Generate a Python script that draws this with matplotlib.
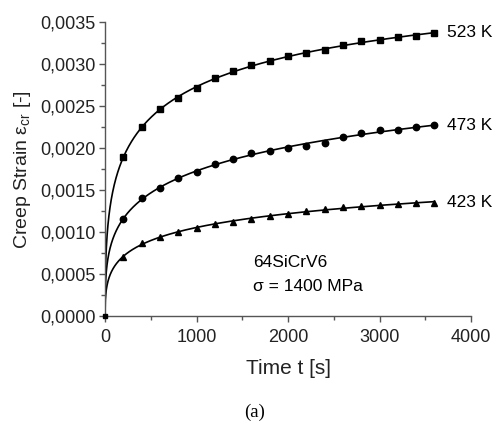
import numpy as np
import matplotlib
matplotlib.use("Agg")
import matplotlib.pyplot as plt
from matplotlib.ticker import MultipleLocator, FuncFormatter

plt.rcParams['font.family'] = ['Liberation Sans', 'DejaVu Sans']

time_s = [200, 400, 600, 800, 1000, 1200, 1400, 1600, 1800, 2000,
          2200, 2400, 2600, 2800, 3000, 3200, 3400, 3600]
strain_523 = [0.00189, 0.00225, 0.00246, 0.00260, 0.00271, 0.00283, 0.00292, 0.00299, 0.00304,
              0.00309, 0.00313, 0.00317, 0.00323, 0.00327, 0.00329, 0.00332, 0.00333, 0.00337]
strain_473 = [0.001155, 0.00140, 0.00153, 0.00164, 0.00171, 0.00181, 0.00187, 0.00194, 0.00197,
              0.00200, 0.00203, 0.00206, 0.00213, 0.00218, 0.00221, 0.00222, 0.00225, 0.00227]
strain_423 = [0.000706, 0.000865, 0.000944, 0.000996, 0.00105, 0.00109, 0.00112, 0.00116, 0.00119,
              0.00122, 0.00125, 0.00127, 0.00130, 0.00131, 0.00132, 0.00133, 0.00134, 0.00135]
labels = ["523 K", "473 K", "423 K"]
markers = ["s", "o", "^"]

fig = plt.figure(figsize=(4.96, 4.24), dpi=100)
ax = fig.add_axes([0.2117, 0.2547, 0.7379, 0.6933])

t = np.array(time_s, dtype=float)
tt = np.concatenate([[0.0], np.geomspace(2, 3600, 400)])
for ys, lab, mk in zip([strain_523, strain_473, strain_423], labels, markers):
    y = np.array(ys)
    coef = np.polyfit(np.log(t), np.log(y), 2)
    fit = np.zeros_like(tt)
    pos = tt > 0
    fit[pos] = np.exp(np.polyval(coef, np.log(tt[pos])))
    ax.plot(tt, fit, color='black', lw=1.2, zorder=2)
    ms = {'s': 4.0, 'o': 4.6, '^': 5.0}[mk]
    ax.plot(t, y, linestyle='none', marker=mk, color='black', ms=ms, zorder=3)
    ax.text(3600 + 140, y[-1], lab, fontsize=12.5, va='center', ha='left')
ax.plot([0], [0], linestyle='none', marker='s', color='black', ms=3, clip_on=False, zorder=3)

ax.text(1620, 0.00064, "64SiCrV6", fontsize=12.5, va='center', ha='left')
ax.text(1620, 0.00035, "σ = 1400 MPa", fontsize=12.5, va='center', ha='left')

ax.set_xlim(0, 4000)
ax.set_ylim(0, 0.0035)
ax.xaxis.set_major_locator(MultipleLocator(1000))
ax.xaxis.set_minor_locator(MultipleLocator(500))
ax.yaxis.set_major_locator(MultipleLocator(0.0005))
ax.yaxis.set_minor_locator(MultipleLocator(0.00025))
ax.yaxis.set_major_formatter(FuncFormatter(lambda v, p: f"{v:.4f}".replace('.', ',')))

for s in ['top', 'right']:
    ax.spines[s].set_visible(False)
for s in ['left', 'bottom']:
    ax.spines[s].set_color('#555555')
    ax.spines[s].set_linewidth(1.0)
ax.tick_params(which='major', direction='out', length=4, width=1, color='#555555',
               labelsize=13, pad=3, labelcolor='#222222')
ax.tick_params(axis='x', which='major', pad=5)
ax.tick_params(which='minor', direction='out', length=3, width=1, color='#555555')

ax.set_xlabel("Time t [s]", fontsize=15, labelpad=10, color='#222222')
ax.set_ylabel(r"Creep Strain $\mathregular{\varepsilon_{cr}}$ [-]", fontsize=14, labelpad=5, color='#222222')

fig.text(0.514, 0.028, "(a)", fontsize=13.5, family='Liberation Serif', ha='center', va='center')

fig.savefig("out.png", dpi=100, facecolor='white')
